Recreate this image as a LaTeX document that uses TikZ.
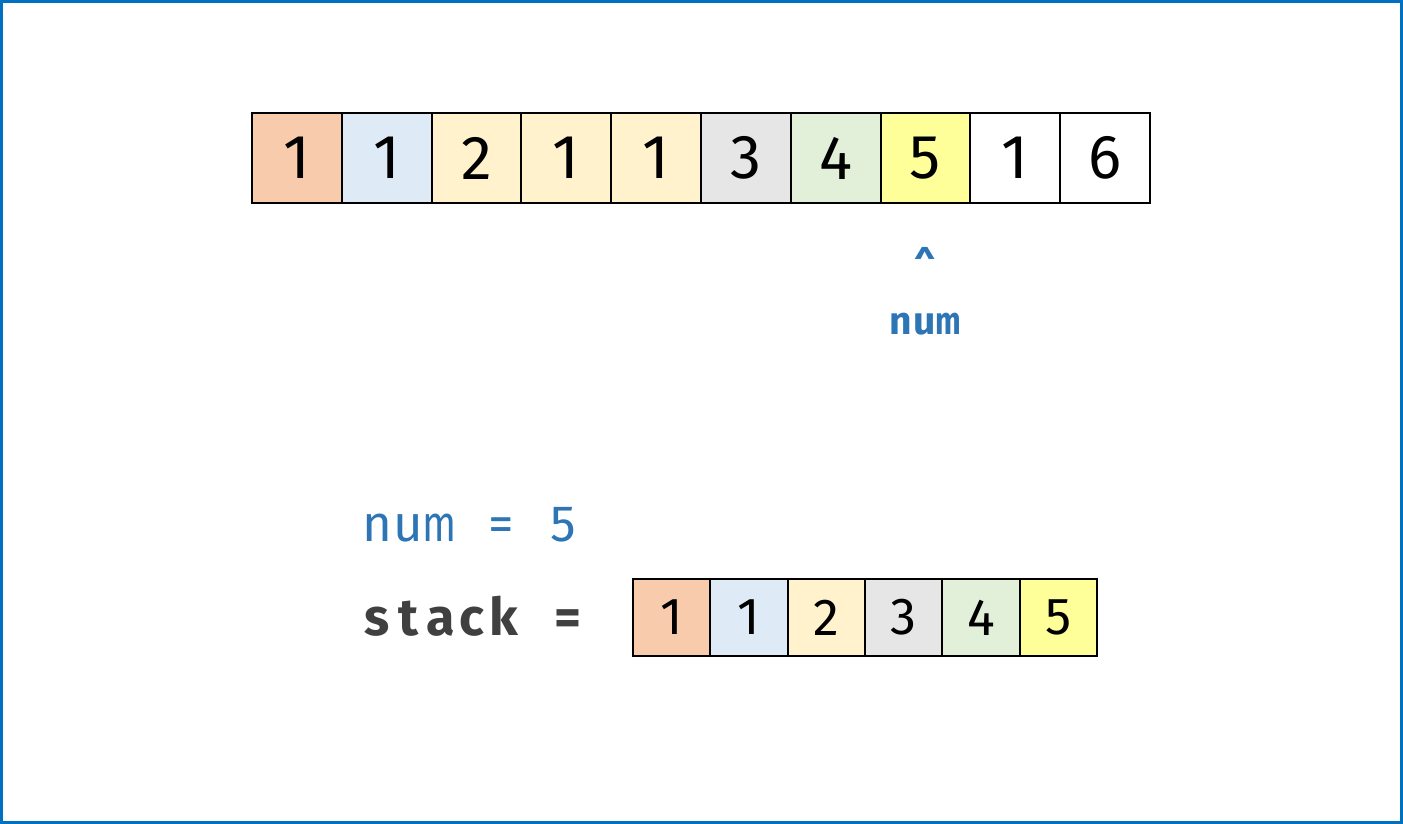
\documentclass[tikz,border=0pt]{standalone}
\usepackage{fontspec}
\usepackage{graphicx}
\setmainfont{Fira Sans}
\definecolor{cOr}{HTML}{F8CBAD}
\definecolor{cBl}{HTML}{DEEBF7}
\definecolor{cLy}{HTML}{FFF2CC}
\definecolor{cGr}{HTML}{E7E6E6}
\definecolor{cGn}{HTML}{E2F0D9}
\definecolor{cYe}{HTML}{FFFF99}
\definecolor{cWh}{HTML}{FFFFFF}
\definecolor{txtblue}{HTML}{2E75B6}
\definecolor{txtdark}{HTML}{404040}
\definecolor{frameblue}{HTML}{0070C0}
\newcommand\mc[1]{\makebox[0.61em]{#1}}
\newcommand\mcn[1]{\makebox[0.61em]{\scalebox{0.78}[1]{#1}}}
\tikzset{
  topcell/.style={draw=black, line width=1pt, inner sep=0pt, minimum width=44.9pt, minimum height=45pt, font=\fontsize{31}{31}\selectfont, text=black},
  botcell/.style={draw=black, line width=1pt, inner sep=0pt, minimum width=38.67pt, minimum height=38.5pt, font=\fontsize{26}{26}\selectfont, text=black},
  codetxt/.style={inner sep=0pt, anchor=base west},
}
\begin{document}
\begin{tikzpicture}[x=0.5pt,y=-0.5pt]
\useasboundingbox (0,0) rectangle (1403,824);
\draw[frameblue, line width=1.5pt] (1.5,1.5) rectangle (1401.5,822.5);
% top array
\foreach \v/\c [count=\i from 0] in {1/cOr,1/cBl,2/cLy,1/cLy,1/cLy,3/cGr,4/cGn,5/cYe,1/cWh,6/cWh}{
  \node[topcell, fill=\c] (t\i) at ({252+89.8*(\i+0.5)},158) {\v};
}
% pointer
\node[inner sep=0pt, anchor=base, text=txtblue, font=\fontsize{19}{19}\selectfont\bfseries] (caret) at (925,279) {\^{}};
\node[inner sep=0pt, anchor=base, text=txtblue, font=\fontsize{19.5}{19.5}\selectfont\bfseries] (numlbl) at (925,334) {\mc{n}\mc{u}\mcn{m}};
% code lines
\node[codetxt, text=txtblue, font=\fontsize{25.5}{25.5}\selectfont] (numeq) at (361,541) {\mc{n}\mc{u}\mcn{m}\mc{ }\mc{=}\mc{ }\mc{5}};
\node[codetxt, text=txtdark, font=\fontsize{26}{26}\selectfont\bfseries] (stackeq) at (361,635) {\mc{s}\mc{t}\mc{a}\mc{c}\mc{k}\mc{ }\mc{=}};
% bottom array
\foreach \v/\c [count=\i from 0] in {1/cOr,1/cBl,2/cLy,3/cGr,4/cGn,5/cYe}{
  \node[botcell, fill=\c] (b\i) at ({633+77.33*(\i+0.5)},617.5) {\v};
}
\end{tikzpicture}
\end{document}
